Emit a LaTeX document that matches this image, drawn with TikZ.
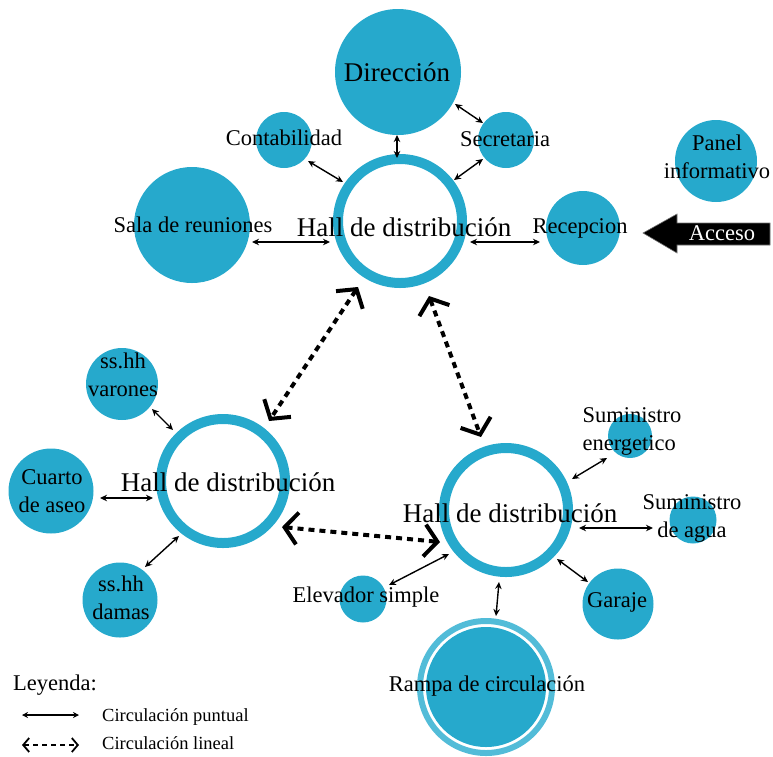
\documentclass[tikz,border=0pt]{standalone}
\usepackage{fontspec}
\setmainfont{Liberation Serif}
\usetikzlibrary{arrows.meta}
\definecolor{cblue}{RGB}{38,169,204}
\definecolor{clight}{RGB}{82,188,216}
\begin{document}
\begin{tikzpicture}[x=1pt,y=-1pt,
  room/.style={circle, fill=cblue, inner sep=0pt, minimum size=#1},
  hall/.style={circle, draw=cblue, line width=10pt, inner sep=0pt, minimum size=124pt},
  lbl/.style={font=\fontsize{22.5}{28}\selectfont, align=center, inner sep=0pt},
  hlbl/.style={font=\fontsize{27}{30}\selectfont, inner sep=0pt},
  leg/.style={font=\fontsize{18.5}{22}\selectfont, inner sep=0pt, anchor=west},
  punt/.style={{Stealth[length=7pt,width=6.5pt]}-{Stealth[length=7pt,width=6.5pt]}, line width=1.4pt},
  lin/.style={{Straight Barb[length=13pt,width=32pt]}-{Straight Barb[length=13pt,width=32pt]}, line width=4pt, dash pattern=on 6pt off 5pt}]
\useasboundingbox (0,0) rectangle (773,756);

% ---- top group ----
\node[room=126pt] (dirc) at (398,72) {};
\node[hlbl] (dirt) at (397,72) {Dirección};
\node[room=56pt] (contc) at (284,140) {};
\node[lbl] (contt) at (284,138) {Contabilidad};
\node[room=56pt] (secc) at (506,140) {};
\node[lbl] (sect) at (505,139) {Secretaria};
\node[room=116pt] (salac) at (192,225) {};
\node[lbl] (salat) at (193,225) {Sala de reuniones};
\node[room=74pt] (recc) at (583,228) {};
\node[lbl] (rect) at (580,228) {Recepcion};
\node[room=82pt] (panc) at (716,161) {};
\node[lbl] (pant) at (717,157) {Panel\\informativo};
\node[hall] (h1) at (400,221) {};
\node[hlbl] (h1t) at (404,227) {Hall de distribución};

% Acceso arrow
\path[fill=black, draw=black!55, line width=0.6pt] (643,233) -- (677,214) -- (677,223) -- (770,223) -- (770,245) -- (677,245) -- (677,253) -- cycle;
\node[lbl, text=white] (acc) at (722,233) {Acceso};

% ---- left group ----
\node[room=72pt] (varc) at (122,384) {};
\node[lbl] (vart) at (123,375) {ss.hh\\varones};
\node[room=85pt] (cuac) at (51,491) {};
\node[lbl] (cuat) at (52,491) {Cuarto\\de aseo};
\node[room=75pt] (damc) at (120,600) {};
\node[lbl] (damt) at (121,598) {ss.hh\\damas};
\node[hall] (h2) at (223,481) {};
\node[hlbl] (h2t) at (228,482) {Hall de distribución};

% ---- right group ----
\node[room=44pt] (enec) at (630,436) {};
\node[lbl, align=left] (enet) at (632,431) {Suministro\\energetico};
\node[room=47pt] (aguc) at (693,520) {};
\node[lbl] (agut) at (692,518) {Suministro\\de agua};
\node[room=71pt] (garc) at (618,604) {};
\node[lbl] (gart) at (617,602) {Garaje};
\node[room=47pt] (elec) at (363,599) {};
\node[lbl] (elet) at (366,597) {Elevador simple};
\node[circle, draw=clight, line width=6pt, inner sep=0pt, minimum size=132pt] (ramo) at (486,687) {};
\node[room=120pt] (ramc) at (486,687) {};
\node[lbl] (ramt) at (487,686) {Rampa de circulación};
\node[hall] (h3) at (506,510) {};
\node[hlbl] (h3t) at (510,513) {Hall de distribución};

% ---- connector end points ----
\coordinate (a1) at (397,135); \coordinate (b1) at (397,158);
\coordinate (a2) at (455,104); \coordinate (b2) at (483,123);
\coordinate (a3) at (308,161); \coordinate (b3) at (343,182);
\coordinate (a4) at (483,159); \coordinate (b4) at (454,180);
\coordinate (a5) at (252,242); \coordinate (b5) at (330,242);
\coordinate (a6) at (470,242); \coordinate (b6) at (540,242);
\coordinate (a7) at (152,409); \coordinate (b7) at (173,430);
\coordinate (a8) at (100,498); \coordinate (b8) at (153,498);
\coordinate (a9) at (145,567); \coordinate (b9) at (179,536);
\coordinate (a10) at (572,479); \coordinate (b10) at (607,458);
\coordinate (a11) at (579,528); \coordinate (b11) at (653,528);
\coordinate (a12) at (557,559); \coordinate (b12) at (588,582);
\coordinate (a13) at (449,554); \coordinate (b13) at (389,585);
\coordinate (a14) at (499,582); \coordinate (b14) at (496,616);
\coordinate (d1) at (358,287); \coordinate (e1) at (269,421);
\coordinate (d2) at (429,296); \coordinate (e2) at (481,437);
\coordinate (d3) at (282,527); \coordinate (e3) at (440,542);

\draw[punt] (a1) -- (b1);
\draw[punt] (a2) -- (b2);
\draw[punt] (a3) -- (b3);
\draw[punt] (a4) -- (b4);
\draw[punt] (a5) -- (b5);
\draw[punt] (a6) -- (b6);
\draw[punt] (a7) -- (b7);
\draw[punt] (a8) -- (b8);
\draw[punt] (a9) -- (b9);
\draw[punt] (a10) -- (b10);
\draw[punt] (a11) -- (b11);
\draw[punt] (a12) -- (b12);
\draw[punt] (a13) -- (b13);
\draw[punt] (a14) -- (b14);

\draw[lin] (d1) -- (e1);
\draw[lin] (d2) -- (e2);
\draw[lin] (d3) -- (e3);

% ---- legend ----
\node[font=\fontsize{22.5}{26}\selectfont, inner sep=0pt, anchor=west] (leyt) at (13,685) {Leyenda:};
\coordinate (la1) at (22,715); \coordinate (lb1) at (79,715);
\coordinate (la2) at (22,745); \coordinate (lb2) at (79,745);
\draw[{Stealth[length=6pt,width=6pt]}-{Stealth[length=6pt,width=6pt]}, line width=1.3pt] (la1) -- (lb1);
\draw[{Straight Barb[length=6pt,width=14pt]}-{Straight Barb[length=6pt,width=14pt]}, line width=1.8pt, dash pattern=on 5pt off 4pt] (la2) -- (lb2);
\node[leg] (l1t) at (102,717) {Circulación puntual};
\node[leg] (l2t) at (102,743) {Circulación lineal};
\end{tikzpicture}
\end{document}
